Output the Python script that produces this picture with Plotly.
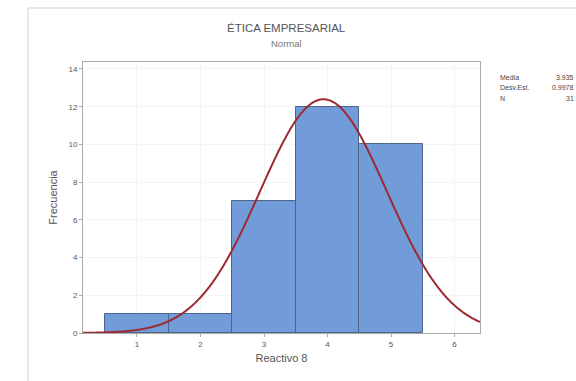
import numpy as np
import plotly.graph_objects as go

# Data
categories = [1, 2, 3, 4, 5]
counts = [1, 1, 7, 12, 10]
x_ticks = [1, 2, 3, 4, 5, 6]
y_ticks = [0, 2, 4, 6, 8, 10, 12, 14]
stat_labels = ["Media", "Desv.Est.", "N"]
stat_values = ["3.935", "0.9978", "31"]

W, H = 576, 381
L, R, T, B = 83, 96, 62, 48

vals = np.repeat(categories, counts)
mu = vals.mean()
sd = vals.std(ddof=1)
n = len(vals)
xs = np.linspace(0.15, 6.4, 500)
ys = n * 1.0 * np.exp(-0.5 * ((xs - mu) / sd) ** 2) / (sd * np.sqrt(2 * np.pi))

fig = go.Figure()
fig.add_trace(go.Bar(
    x=categories, y=counts, width=1.0,
    marker=dict(color="#729BDA", line=dict(color="#4E6587", width=1)),
    showlegend=False, hoverinfo="x+y"))
fig.add_trace(go.Scatter(
    x=xs, y=ys, mode="lines", line_shape="spline",
    line=dict(color="#9B2B31", width=2), showlegend=False, hoverinfo="skip"))

def px2paper_x(p):
    return (p - L) / (W - L - R)

def px2paper_y(p):
    return (H - B - p) / (H - T - B)

shapes = [dict(type="rect", xref="paper", yref="paper",
               x0=px2paper_x(28), x1=px2paper_x(590),
               y0=px2paper_y(395), y1=px2paper_y(8),
               line=dict(color="#E2E2E2", width=1.5), fillcolor="rgba(0,0,0,0)",
               layer="below")]

annotations = [
    dict(text="ÉTICA EMPRESARIAL", xref="paper", yref="paper",
         x=px2paper_x(286), y=px2paper_y(28), showarrow=False,
         font=dict(size=11.5, color="#555555", family="Liberation Sans"),
         xanchor="center", yanchor="middle"),
    dict(text="Normal", xref="paper", yref="paper",
         x=px2paper_x(286), y=px2paper_y(43), showarrow=False,
         font=dict(size=9.5, color="#777777", family="Liberation Sans"),
         xanchor="center", yanchor="middle"),
]
for i, (lab, v) in enumerate(zip(stat_labels, stat_values)):
    yy = px2paper_y(77 + i * 10.5)
    annotations.append(dict(text=lab, xref="paper", yref="paper", x=px2paper_x(498), y=yy,
                            showarrow=False, xanchor="left", yanchor="middle",
                            font=dict(size=7, color="#444444", family="Liberation Sans")))
    annotations.append(dict(text=v, xref="paper", yref="paper", x=px2paper_x(576), y=yy,
                            showarrow=False, xanchor="right", yanchor="middle",
                            font=dict(size=7, color="#444444", family="Liberation Sans")))

fig.update_layout(
    width=W, height=H,
    margin=dict(l=L, r=R, t=T, b=B),
    paper_bgcolor="white", plot_bgcolor="white",
    bargap=0,
    shapes=shapes, annotations=annotations,
    font=dict(family="Liberation Sans", color="#555555"),
    xaxis=dict(range=[0.15, 6.4], tickvals=x_ticks, ticktext=[str(t) for t in x_ticks],
               showgrid=True, gridcolor="#F4F4F4", zeroline=False,
               showline=True, linecolor="#AAAAAA", mirror=True,
               ticks="outside", ticklen=3, tickcolor="#AAAAAA",
               tickfont=dict(size=8, color="#555555"),
               title=dict(text="Reactivo 8", font=dict(size=11, color="#555555"), standoff=6)),
    yaxis=dict(range=[0, 14.37], tickvals=y_ticks, ticktext=[str(t) for t in y_ticks],
               showgrid=True, gridcolor="#F4F4F4", zeroline=False,
               showline=True, linecolor="#AAAAAA", mirror=True,
               ticks="outside", ticklen=3, tickcolor="#AAAAAA",
               tickfont=dict(size=8, color="#555555"),
               title=dict(text="Frecuencia", font=dict(size=11, color="#555555"), standoff=8)),
)

fig.write_html("out.html")
